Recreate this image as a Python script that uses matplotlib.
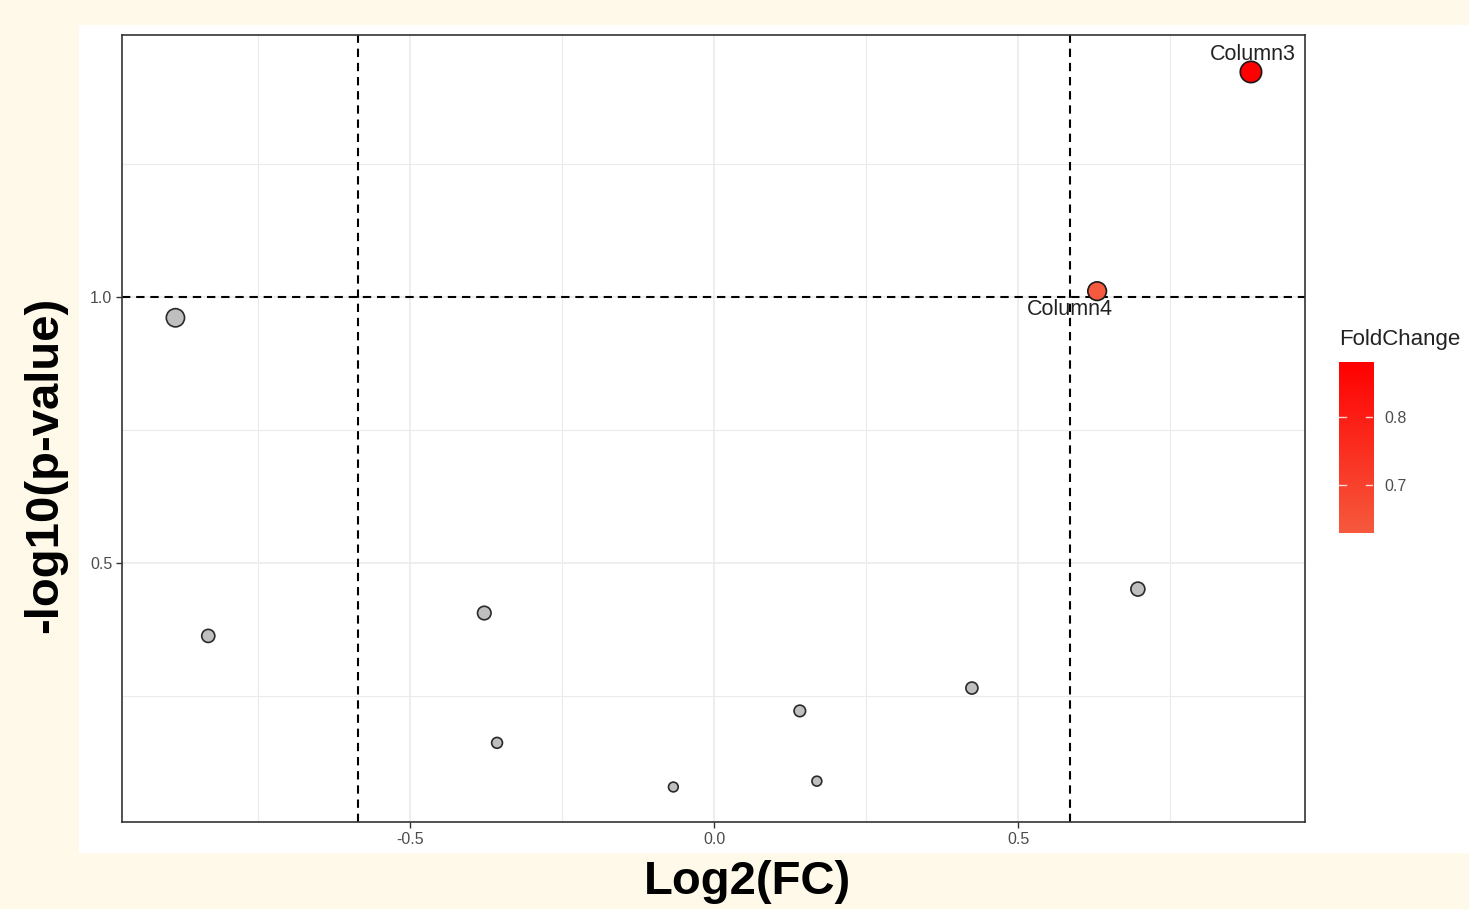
import numpy as np
import matplotlib
matplotlib.use('Agg')
import matplotlib.pyplot as plt
from matplotlib.colors import LinearSegmentedColormap, Normalize
from matplotlib.patches import Rectangle

plt.rcParams['font.family'] = ['Liberation Sans', 'DejaVu Sans']

# data
names = ['Column3', 'Column4', 'Column1', 'Column2', 'Column5', 'Column6',
         'Column7', 'Column8', 'Column9', 'Column10', 'Column11']
log2fc = [0.883, 0.630, -0.886, -0.832, -0.378, -0.357, -0.067, 0.141, 0.169, 0.424, 0.697]
neglog10p = [1.423, 1.011, 0.961, 0.363, 0.406, 0.162, 0.079, 0.222, 0.090, 0.265, 0.451]
fc_cut = 0.585
p_cut = 1.0
x_ticks = [-0.5, 0.0, 0.5]
y_ticks = [0.5, 1.0]
cbar_ticks = [0.7, 0.8]

x = np.array(log2fc)
y = np.array(neglog10p)
sig = (np.abs(x) > fc_cut) & (y > p_cut)

fig = plt.figure(figsize=(14.69, 9.09), dpi=100)
fig.patch.set_facecolor('#fef9e8')
fig.patches.append(Rectangle((0.0538, 0.0616), 0.9462, 0.9109, transform=fig.transFigure,
                             facecolor='white', edgecolor='none', zorder=-1))

ax = fig.add_axes([0.0830, 0.0957, 0.8054, 0.8658])
ax.set_xlim(-0.974, 0.972)
ax.set_ylim(0.0132, 1.4925)

# grid
for v in [-0.75, -0.5, -0.25, 0.0, 0.25, 0.5, 0.75]:
    ax.axvline(v, color='#ebebeb', lw=1.2 if v in x_ticks else 0.8, zorder=0)
for v in [0.25, 0.5, 0.75, 1.0, 1.25]:
    ax.axhline(v, color='#ebebeb', lw=1.2 if v in y_ticks else 0.8, zorder=0)

# threshold lines
ls = (0, (4, 2.8))
ax.axvline(-fc_cut, color='black', lw=1.5, ls=ls, zorder=1)
ax.axvline(fc_cut, color='black', lw=1.5, ls=ls, zorder=1)
ax.axhline(p_cut, color='black', lw=1.5, ls=ls, zorder=1)

sizes = 38 + 140 * y
cmap = LinearSegmentedColormap.from_list('fc', ['#f65a3e', '#ff0000'])
norm = Normalize(vmin=x[sig].min() - 0.001, vmax=x[sig].max() - 0.002)

ax.scatter(x[~sig], y[~sig], s=sizes[~sig], c='#bfbfbf', edgecolors='#2a2a2a',
           linewidths=1.2, zorder=3)
ax.scatter(x[sig], y[sig], s=sizes[sig], c=x[sig], cmap=cmap, norm=norm,
           edgecolors='#1a1a1a', linewidths=1.2, zorder=3)

# labels for significant points
offsets = {'Column3': 0.033, 'Column4': -0.035}
for i in np.where(sig)[0]:
    dx = -0.045 if names[i] == 'Column4' else 0.003
    ax.text(x[i] + dx, y[i] + offsets.get(names[i], 0.05), names[i], ha='center', va='center',
            fontsize=15.5, color='#222222', zorder=4)

ax.set_xticks(x_ticks)
ax.set_xticklabels([f'{v:.1f}' for v in x_ticks])
ax.set_yticks(y_ticks)
ax.set_yticklabels([f'{v:.1f}' for v in y_ticks])
ax.tick_params(length=4, width=1, color='#333333', labelsize=11.5, labelcolor='#4d4d4d', pad=3)
for s in ax.spines.values():
    s.set_color('#333333')
    s.set_linewidth(1.2)

fig.text(747 / 1469, 1 - 882 / 909, 'Log2(FC)', ha='center', va='center',
         fontsize=34, fontweight='bold')
fig.text(45 / 1469, 1 - 465 / 909, '-log10(p-value)', ha='center', va='center',
         fontsize=34, fontweight='bold', rotation=90)

# colorbar
cax = fig.add_axes([0.9115, 0.4136, 0.0232, 0.1882])
grad = np.linspace(norm.vmin, norm.vmax, 256).reshape(-1, 1)
cax.imshow(grad, aspect='auto', cmap=cmap, norm=norm, origin='lower',
           extent=[0, 1, norm.vmin, norm.vmax])
cax.set_xlim(0, 1)
cax.set_ylim(norm.vmin, norm.vmax)
cax.set_xticks([])
for v in cbar_ticks:
    cax.plot([0, 0.2], [v, v], color='white', lw=1, alpha=0.8)
    cax.plot([0.8, 1], [v, v], color='white', lw=1, alpha=0.8)
cax.yaxis.tick_right()
cax.set_yticks(cbar_ticks)
cax.set_yticklabels([f'{v:.1f}' for v in cbar_ticks])
cax.tick_params(length=0, labelsize=11.5, labelcolor='#4d4d4d', pad=8)
for s in cax.spines.values():
    s.set_visible(False)
fig.text(1339 / 1469, 1 - 339 / 909, 'FoldChange', ha='left', va='center', fontsize=16,
         color='#222222')

fig.savefig('out.png', dpi=100, facecolor=fig.get_facecolor())
